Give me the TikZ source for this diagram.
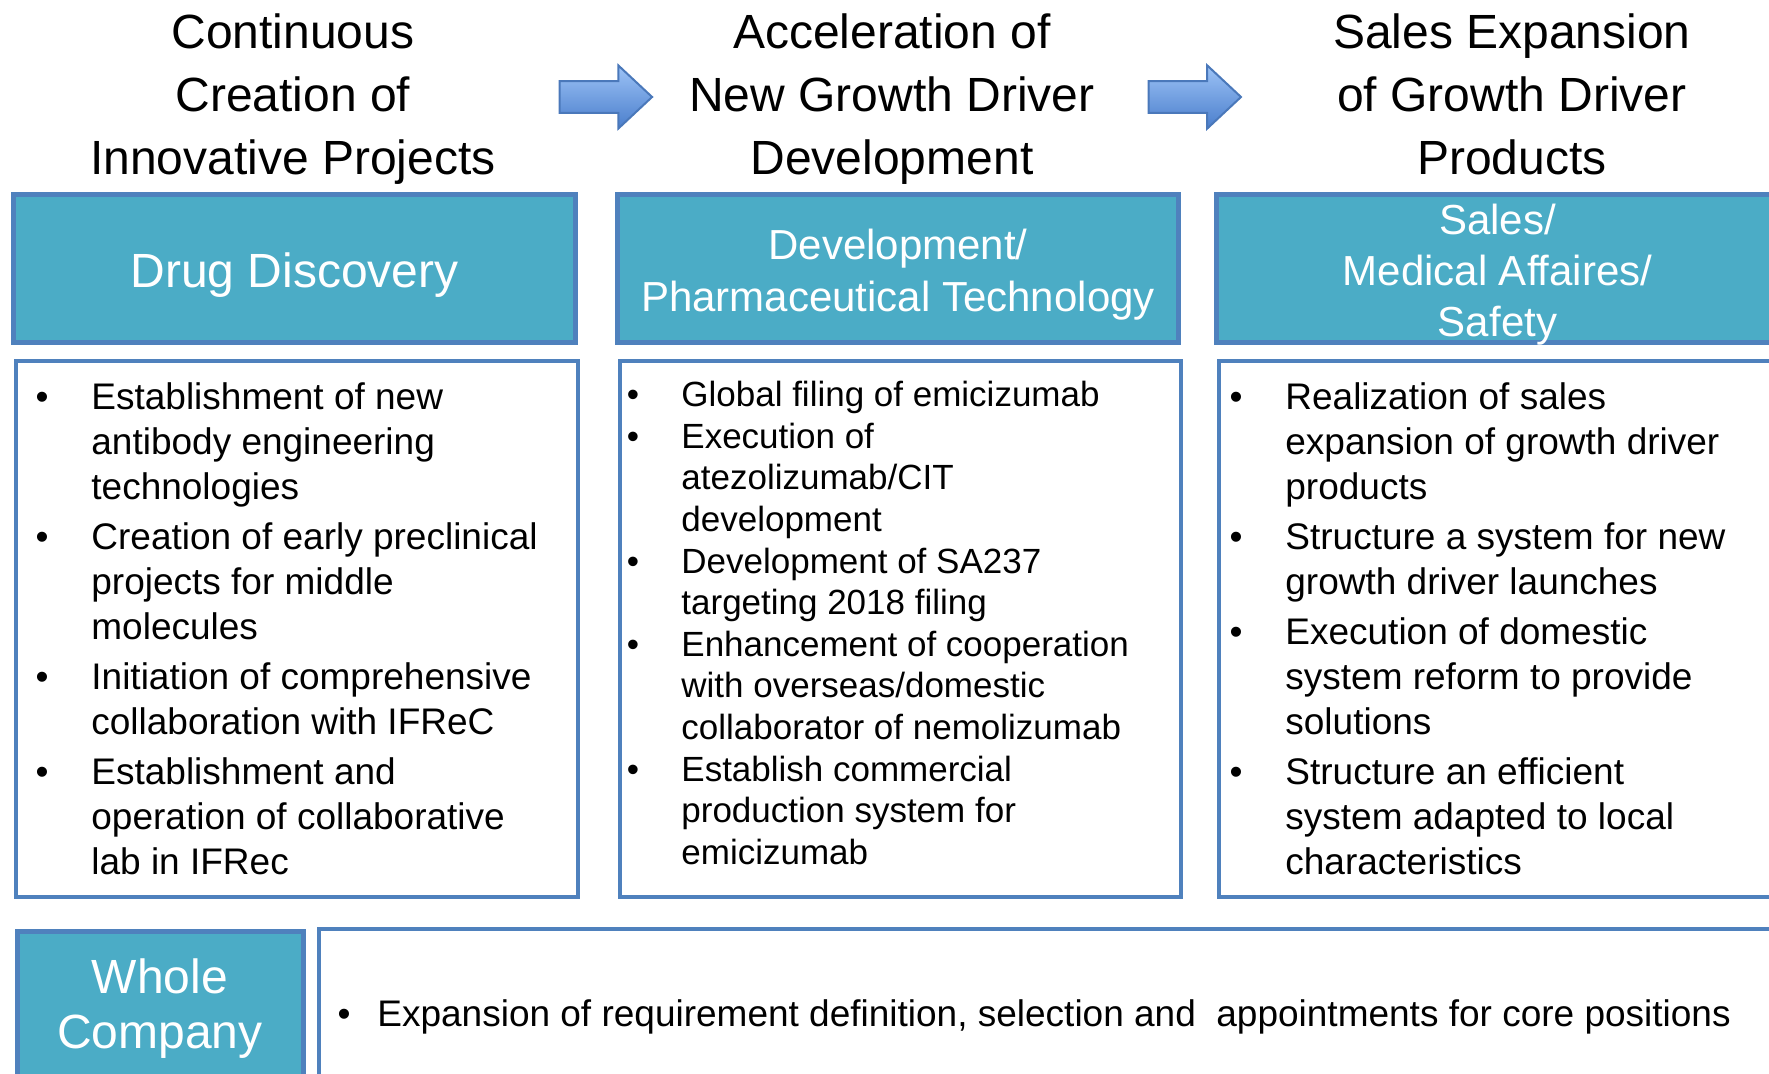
\documentclass[tikz,border=0pt]{standalone}
\usepackage{fontspec}
\setmainfont{Liberation Sans}
\definecolor{tealfill}{HTML}{4BACC6}
\definecolor{bordblue}{HTML}{4F81BD}
\definecolor{arrtop}{HTML}{9DC3F6}
\definecolor{arrbot}{HTML}{4A7ECC}
\definecolor{arrline}{HTML}{4A78BA}
\tikzset{
  tealbox/.style={draw=bordblue, line width=2.5pt, fill=tealfill, inner sep=0pt},
  tealtext/.style={text=white, align=center, inner sep=0pt, anchor=center},
  listbox/.style={draw=bordblue, line width=2pt, fill=white, inner sep=0pt},
  hdr/.style={align=center, anchor=base, inner sep=0pt, font=\fontsize{24pt}{31.5pt}\selectfont},
  itemA/.style={align=left, anchor=base west, inner sep=0pt, font=\fontsize{18.5pt}{22.5pt}\selectfont},
  itemB/.style={align=left, anchor=base west, inner sep=0pt, font=\fontsize{17.5pt}{20.8pt}\selectfont},
  bulA/.style={anchor=base, inner sep=0pt, font=\fontsize{18.5pt}{22.5pt}\selectfont},
  bulB/.style={anchor=base, inner sep=0pt, font=\fontsize{17.5pt}{20.8pt}\selectfont},
  blockarrow/.style={draw=arrline, line width=1pt, top color=arrtop, bottom color=arrbot, line join=miter}
}
\begin{document}
\begin{tikzpicture}[x=0.5pt,y=-0.5pt]
\useasboundingbox (0,0) rectangle (1769,1074);

% headers (anchor = baseline of last line)
\node[hdr] (h1) at (293,175) {Continuous\\Creation of\\Innovative Projects};
\node[hdr] (h2) at (892,175) {Acceleration of\\New Growth Driver\\Development};
\node[hdr] (h3) at (1512,175) {Sales Expansion\\of Growth Driver\\Products};

% block arrows
\draw[blockarrow] (559.6,81.2) -- (618.3,81.2) -- (618.3,65.4) -- (652.1,97) -- (618.3,128.6) -- (618.3,113) -- (559.6,113) -- cycle;
\draw[blockarrow] (1148.5,81.2) -- (1207.2,81.2) -- (1207.2,65.4) -- (1241,97) -- (1207.2,128.6) -- (1207.2,113) -- (1148.5,113) -- cycle;

% teal headers
\node[tealbox, minimum width=281pt, minimum height=74pt] (dd) at (294.5,268.5) {};
\node[tealbox, minimum width=280.5pt, minimum height=74pt] (dev) at (898,268.5) {};
\node[tealbox, minimum width=281pt, minimum height=74pt] (sales) at (1497.5,268.5) {};
\node[tealtext, font=\fontsize{24pt}{28pt}\selectfont] (ddt) at (294.5,275) {Drug Discovery};
\node[tealtext, font=\fontsize{21pt}{26pt}\selectfont] (devt) at (898,275) {Development/\\Pharmaceutical Technology};
\node[tealtext, font=\fontsize{21pt}{25.5pt}\selectfont] (salest) at (1497.5,275) {Sales/\\Medical Affaires/\\Safety};

% list boxes
\node[listbox, minimum width=281.25pt, minimum height=268pt] (l1) at (296.75,629) {};
\node[listbox, minimum width=280.5pt, minimum height=268pt] (l2) at (900.5,629) {};
\node[listbox, minimum width=281pt, minimum height=268pt] (l3) at (1500,629) {};

% column 1
\node[bulA] (b11) at (42,409.4) {\textbullet};
\node[itemA] (t11) at (91,499.4) {Establishment of new\\antibody engineering\\technologies};
\node[bulA] (b12) at (42,549.4) {\textbullet};
\node[itemA] (t12) at (91,639.4) {Creation of early preclinical\\projects for middle\\molecules};
\node[bulA] (b13) at (42,689.4) {\textbullet};
\node[itemA] (t13) at (91,734.4) {Initiation of comprehensive\\collaboration with IFReC};
\node[bulA] (b14) at (42,784.4) {\textbullet};
\node[itemA] (t14) at (91,874.4) {Establishment and\\operation of collaborative\\lab in IFRec};

% column 2
\node[bulB] (b21) at (633,406.8) {\textbullet};
\node[itemB] (t21) at (681,406.8) {Global filing of emicizumab};
\node[bulB] (b22) at (633,448.4) {\textbullet};
\node[itemB] (t22) at (681,531.6) {Execution of\\atezolizumab/CIT\\development};
\node[bulB] (b23) at (633,573.2) {\textbullet};
\node[itemB] (t23) at (681,614.8) {Development of SA237\\targeting 2018 filing};
\node[bulB] (b24) at (633,656.4) {\textbullet};
\node[itemB] (t24) at (681,739.6) {Enhancement of cooperation\\with overseas/domestic\\collaborator of nemolizumab};
\node[bulB] (b25) at (633,781.2) {\textbullet};
\node[itemB] (t25) at (681,864.4) {Establish commercial\\production system for\\emicizumab};

% column 3
\node[bulA] (b31) at (1236,409.4) {\textbullet};
\node[itemA] (t31) at (1285,499.4) {Realization of sales\\expansion of growth driver\\products};
\node[bulA] (b32) at (1236,549.4) {\textbullet};
\node[itemA] (t32) at (1285,594.4) {Structure a system for new\\growth driver launches};
\node[bulA] (b33) at (1236,644.4) {\textbullet};
\node[itemA] (t33) at (1285,734.4) {Execution of domestic\\system reform to provide\\solutions};
\node[bulA] (b34) at (1236,784.4) {\textbullet};
\node[itemA] (t34) at (1285,874.4) {Structure an efficient\\system adapted to local\\characteristics};

% bottom row
\node[tealbox, minimum width=143pt, minimum height=84pt] (wcbox) at (160,1016) {};
\node[align=center, anchor=base, inner sep=0pt, text=white, font=\fontsize{24pt}{28pt}\selectfont] (wc) at (160,1049) {Whole\\Company};
\node[listbox, minimum width=740pt, minimum height=86pt] (lb) at (1059,1015) {};
\node[bulA] (b41) at (344,1027) {\textbullet};
\node[itemA] (t41) at (377,1027) {Expansion of requirement definition, selection and~ appointments for core positions};
\end{tikzpicture}
\end{document}
